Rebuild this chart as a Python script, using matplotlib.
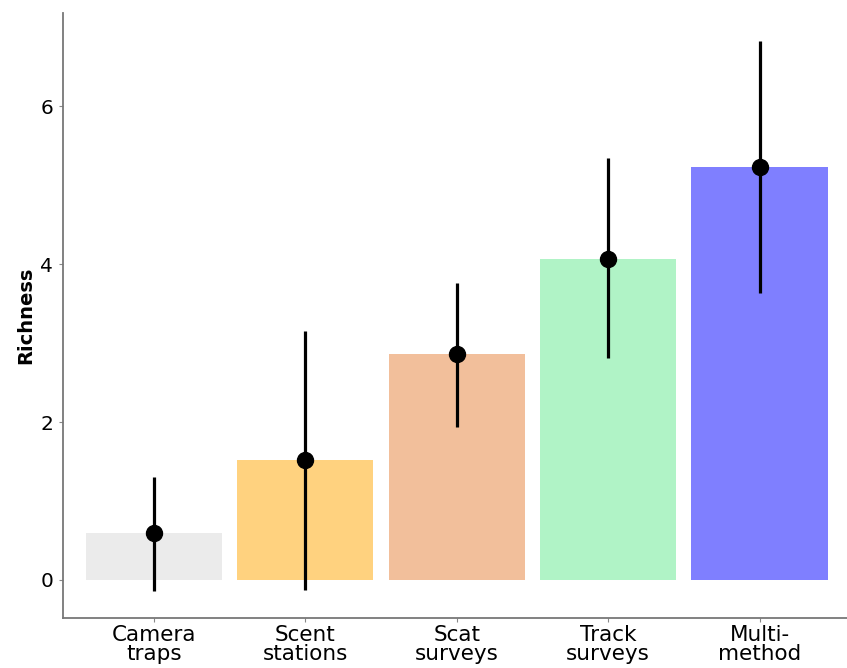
import matplotlib
matplotlib.use("Agg")
import matplotlib.pyplot as plt

# data
methods = ["Camera\ntraps", "Scent\nstations", "Scat\nsurveys", "Track\nsurveys", "Multi-\nmethod"]
richness = [0.59, 1.52, 2.86, 4.07, 5.23]
lower = [-0.14, -0.13, 1.94, 2.81, 3.63]
upper = [1.31, 3.15, 3.76, 5.35, 6.83]
colors = ["#EBEBEB", "#FFD27F", "#F2BF9B", "#B0F3C6", "#7F7FFF"]

fig = plt.figure(figsize=(8.47, 6.68), dpi=100)
ax = fig.add_axes([0.0744, 0.075, 0.926, 0.9055])

x = list(range(len(methods)))
ax.bar(x, richness, width=0.9, color=colors, zorder=1)
for xi, lo, hi in zip(x, lower, upper):
    ax.plot([xi, xi], [lo, hi], color="black", lw=2.3, solid_capstyle="butt", zorder=2)
ax.plot(x, richness, "o", color="black", markersize=11.5, zorder=3)

ax.set_xlim(-0.6, 4.58)
ax.set_ylim(-0.48, 7.18)
ax.set_yticks([0, 2, 4, 6])
ax.set_xticks(x)
ax.set_xticklabels(methods, fontsize=15.5, linespacing=0.93)
ax.tick_params(axis="y", labelsize=14.5, length=3, color="#888888", pad=4)
ax.tick_params(axis="x", length=3, color="#888888", pad=2)
ax.set_ylabel("Richness", fontsize=14, fontweight="bold", labelpad=4)

for side in ["top", "right"]:
    ax.spines[side].set_visible(False)
for side in ["left", "bottom"]:
    ax.spines[side].set_color("#777777")
    ax.spines[side].set_linewidth(1.3)

fig.savefig("out.png", dpi=100)
